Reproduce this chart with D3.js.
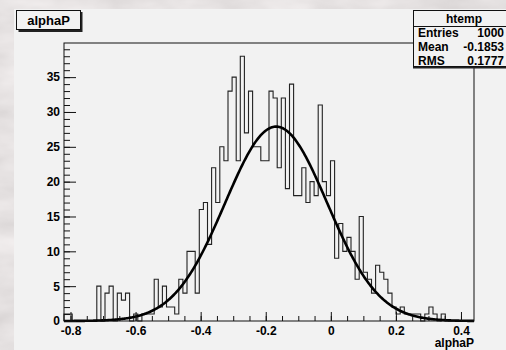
<!DOCTYPE html>
<html>
<head>
<meta charset="utf-8">
<script src="https://cdn.jsdelivr.net/npm/d3@7"></script>
<style>
  body { margin: 0; background: #c4bcbc; }
  svg { display: block; }
  text { font-family: "Liberation Sans", Arial, sans-serif; font-weight: bold; fill: #000; }
</style>
</head>
<body>
<svg id="chart" width="506" height="350"></svg>
<script>
// Histogram "htemp" of alphaP, 100 bins
const histRange = [-0.82, 0.44];
const binCounts = [
  1, 1, 0, 0, 0, 0, 0, 0, 5, 0,
  4, 5, 0, 4, 3, 4, 0, 1, 0, 1,
  1, 1, 6, 2, 5, 2, 2, 1, 6, 4,
  10, 10, 4, 16, 17, 11, 22, 17, 25, 23,
  33, 35, 23, 38, 27, 33, 25, 25, 23, 23,
  33, 32, 22, 32, 19, 34, 18, 18, 22, 17,
  20, 18, 31, 20, 18, 23, 9, 14, 10, 12,
  10, 6, 15, 7, 6, 4, 8, 7, 6, 4,
  2, 1, 2, 1, 1, 1, 1, 0, 1, 2,
  1, 0, 1, 0, 0, 0, 0, 0, 0, 0
];
// gaussian fit: constant, mean, sigma
const fitParams = [27.9, -0.168, 0.157];
const xTicks = [-0.8, -0.6, -0.4, -0.2, 0, 0.2, 0.4];
const yTicks = [0, 5, 10, 15, 20, 25, 30, 35];
const statLabels = ["Entries", "Mean", "RMS"];
const statValues = ["1000", "-0.1853", "0.1777"];

const svg = d3.select("#chart");
const frame = { left: 64, right: 474, top: 43, bottom: 321 };

// marble-like background
const defs = svg.append("defs");
const flt = defs.append("filter").attr("id", "marble")
    .attr("x", 0).attr("y", 0).attr("width", "100%").attr("height", "100%");
flt.append("feTurbulence")
    .attr("type", "fractalNoise")
    .attr("baseFrequency", "0.012 0.03")
    .attr("numOctaves", 4)
    .attr("seed", 7);
flt.append("feColorMatrix")
    .attr("type", "matrix")
    .attr("values", "0.35 0 0 0 0.61  0.35 0 0 0 0.58  0.35 0 0 0 0.58  0 0 0 0 1");
svg.append("rect").attr("width", 506).attr("height", 350).attr("filter", "url(#marble)");

// pad
svg.append("rect")
    .attr("x", 14).attr("y", 9)
    .attr("width", 506 - 14).attr("height", 350 - 9)
    .attr("fill", "#f2f2f2");

const x = d3.scaleLinear().domain(histRange).range([frame.left, frame.right]);
const yMax = d3.max(binCounts) * 1.05;
const y = d3.scaleLinear().domain([0, yMax]).range([frame.bottom, frame.top]);

// histogram outline
const nBins = binCounts.length;
const binW = (histRange[1] - histRange[0]) / nBins;
const pts = [[histRange[0], 0]];
binCounts.forEach((c, i) => {
    const lo = histRange[0] + i * binW;
    pts.push([lo, c], [lo + binW, c]);
});
pts.push([histRange[1], 0]);

svg.append("path")
    .attr("fill", "none")
    .attr("stroke", "#222")
    .attr("stroke-width", 1.1)
    .attr("d", d3.line().x(d => x(d[0])).y(d => y(d[1]))(pts));

// fit curve
const gaus = v => fitParams[0] * Math.exp(-0.5 * Math.pow((v - fitParams[1]) / fitParams[2], 2));
const fx = d3.range(0, 401).map(i => histRange[0] + i * (histRange[1] - histRange[0]) / 400);
svg.append("path")
    .attr("fill", "none")
    .attr("stroke", "#000")
    .attr("stroke-width", 2.6)
    .attr("stroke-linejoin", "round")
    .attr("d", d3.line().x(d => x(d)).y(d => y(gaus(d)))(fx));

// frame
svg.append("rect")
    .attr("x", frame.left).attr("y", frame.top)
    .attr("width", frame.right - frame.left).attr("height", frame.bottom - frame.top)
    .attr("fill", "none")
    .attr("stroke", "#111")
    .attr("stroke-width", 1);

// y axis: minor then major ticks
svg.append("g")
    .attr("transform", `translate(${frame.left},0)`)
    .call(d3.axisLeft(y).tickValues(d3.range(0, 40, 1)).tickSize(-6).tickFormat(""))
    .call(g => g.select(".domain").remove());
const yAx = svg.append("g")
    .attr("transform", `translate(${frame.left},0)`)
    .call(d3.axisLeft(y).tickValues(yTicks).tickSize(-12).tickPadding(4));
yAx.select(".domain").remove();
yAx.selectAll("text").style("font-size", "12px");

// x axis
svg.append("g")
    .attr("transform", `translate(0,${frame.bottom})`)
    .call(d3.axisBottom(x).tickValues(d3.range(-0.8, 0.44, 0.05)).tickSize(-5).tickFormat(""))
    .call(g => g.select(".domain").remove());
const xAx = svg.append("g")
    .attr("transform", `translate(0,${frame.bottom})`)
    .call(d3.axisBottom(x).tickValues(xTicks).tickSize(-9).tickPadding(5)
        .tickFormat(d => String(+d.toFixed(1))));
xAx.select(".domain").remove();
xAx.selectAll("text").style("font-size", "12px");

svg.selectAll(".tick line").attr("stroke", "#111");

// axis title
svg.append("text")
    .attr("x", frame.right)
    .attr("y", 347)
    .attr("text-anchor", "end")
    .style("font-size", "12px")
    .text("alphaP");

// title box with shadow
svg.append("rect").attr("x", 18.5).attr("y", 12).attr("width", 64).attr("height", 20).attr("fill", "#222");
svg.append("rect")
    .attr("x", 16.5).attr("y", 10.5).attr("width", 64).attr("height", 19)
    .attr("fill", "#f2f2f2").attr("stroke", "#111");
svg.append("text")
    .attr("x", 48.5).attr("y", 24.5)
    .attr("text-anchor", "middle")
    .style("font-size", "13px")
    .text("alphaP");

// stats box
const sb = svg.append("g");
sb.append("rect").attr("x", 413).attr("y", 12).attr("width", 104).attr("height", 56.5).attr("fill", "#222");
sb.append("rect")
    .attr("x", 413.5).attr("y", 10.5).attr("width", 104).attr("height", 56)
    .attr("fill", "#f2f2f2").attr("stroke", "#111");
sb.append("line")
    .attr("x1", 413.5).attr("x2", 517).attr("y1", 26.5).attr("y2", 26.5)
    .attr("stroke", "#111");
sb.append("text")
    .attr("x", 464).attr("y", 23)
    .attr("text-anchor", "middle")
    .style("font-size", "12px")
    .text("htemp");
statLabels.forEach((lab, i) => {
    sb.append("text")
        .attr("x", 418).attr("y", 37 + i * 13.8)
        .style("font-size", "12px")
        .text(lab);
    sb.append("text")
        .attr("x", 504).attr("y", 37 + i * 13.8)
        .attr("text-anchor", "end")
        .style("font-size", "12px")
        .text(statValues[i]);
});
</script>
</body>
</html>
